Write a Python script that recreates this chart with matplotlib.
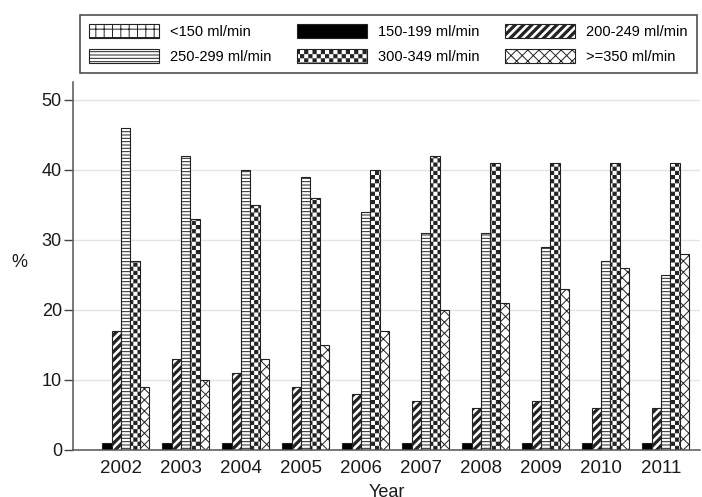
import matplotlib as mpl

mpl.use("Agg")

import matplotlib.hatch as mhatch
import matplotlib.pyplot as plt
import numpy as np
from matplotlib.path import Path

years = ["2002", "2003", "2004", "2005", "2006", "2007", "2008", "2009", "2010", "2011"]
labels = ["<150 ml/min", "150-199 ml/min", "200-249 ml/min",
          "250-299 ml/min", "300-349 ml/min", ">=350 ml/min"]

under_150 = [0, 0, 0, 0, 0, 0, 0, 0, 0, 0]
r150_199 = [1, 1, 1, 1, 1, 1, 1, 1, 1, 1]
r200_249 = [17, 13, 11, 9, 8, 7, 6, 7, 6, 6]
r250_299 = [46, 42, 40, 39, 34, 31, 31, 29, 27, 25]
r300_349 = [27, 33, 35, 36, 40, 42, 41, 41, 41, 41]
over_350 = [9, 10, 13, 15, 17, 20, 21, 23, 26, 28]

HATCH_LW = 0.7          # pt, used for all hatch strokes
SHRINK = HATCH_LW / 72  # stroke width as a fraction of the 1-inch hatch tile

SQ = [Path.MOVETO, Path.LINETO, Path.LINETO, Path.LINETO, Path.CLOSEPOLY]


# matplotlib has no checkerboard and no bold-stripe hatch, so two unused
# hatch characters ('o' and '*') are redefined as filled patterns
class CheckerHatch(mhatch.HatchPatternBase):
    def __init__(self, hatch, density):
        self.n = hatch.count("o") * 6
        self.num_vertices = (self.n * self.n // 2) * 5

    def set_vertices_and_codes(self, vertices, codes):
        n = self.n
        s = 1.0 / n
        d = s - SHRINK
        k = 0
        for i in range(n):
            for j in range(n):
                if (i + j) % 2 == 0:
                    x0, y0 = i * s + SHRINK / 2, j * s + SHRINK / 2
                    vertices[k:k + 5] = [(x0, y0), (x0 + d, y0), (x0 + d, y0 + d),
                                         (x0, y0 + d), (x0, y0)]
                    codes[k:k + 5] = SQ
                    k += 5


class BoldDiagonalHatch(mhatch.HatchPatternBase):
    def __init__(self, hatch, density):
        self.n = hatch.count("*") * 6
        self.num_vertices = (2 * self.n + 1) * 5 if self.n else 0

    def set_vertices_and_codes(self, vertices, codes):
        n = self.n
        t = 0.5 / n - SHRINK
        k = 0
        for i in range(-n, n + 1):
            c = i / n
            vertices[k:k + 5] = [(0, c), (1, 1 + c), (1, 1 + c + t), (0, c + t), (0, c)]
            codes[k:k + 5] = SQ
            k += 5


mhatch._hatch_types = [t for t in mhatch._hatch_types
                       if t not in (mhatch.SmallCircles, mhatch.Stars)]
mhatch._hatch_types += [CheckerHatch, BoldDiagonalHatch]

plt.rcParams.update({
    "font.family": ["Liberation Sans", "DejaVu Sans"],
    "hatch.linewidth": HATCH_LW,
    "hatch.color": "black",
})

series = [under_150, r150_199, r200_249, r250_299, r300_349, over_350]
faces = ["white", "black", "white", "white", "white", "white"]
hatches = ["++", None, "**", "-----", "oooo", "xxx"]

fig = plt.figure(figsize=(7.02, 4.97), dpi=100)
ax = fig.add_axes([73 / 702, 1 - 450 / 497, 627 / 702, 368 / 497])

x = np.arange(len(years))
w = 0.155
containers = []
for k, vals in enumerate(series):
    bc = ax.bar(x + (k - 2.5) * w, vals, w, facecolor=faces[k],
                edgecolor="#222222", linewidth=0.8, hatch=hatches[k],
                label=labels[k], zorder=2)
    containers.append(bc)

ax.set_xlim(-0.8, 9.65)
ax.set_ylim(0, 52.57)
ax.set_yticks([0, 10, 20, 30, 40, 50])
ax.set_xticks(x, years)
ax.yaxis.grid(True, color="#e4e4e4", linewidth=1.0, zorder=0)
ax.set_axisbelow(True)
for side in ("top", "right"):
    ax.spines[side].set_visible(False)
for side in ("left", "bottom"):
    ax.spines[side].set_color("#555555")
    ax.spines[side].set_linewidth(1.1)
ax.tick_params(axis="x", length=0, pad=7.5, labelsize=13.5, labelcolor="#1a1a1a")
ax.tick_params(axis="y", length=6.5, width=1.0, color="#444444", pad=1.5,
               labelsize=13, labelcolor="#1a1a1a")

ax.set_ylabel("%", rotation=0, fontsize=13, color="#1a1a1a", ha="center", va="center")
ax.yaxis.set_label_coords(-0.085, 0.51)
ax.set_xlabel("Year", fontsize=13, color="#1a1a1a", va="center")
ax.xaxis.set_label_coords(0.5, -0.115)

order = [0, 3, 1, 4, 2, 5]
leg = fig.legend([containers[i] for i in order], [labels[i] for i in order],
                 ncol=3, loc="center", mode="expand", borderaxespad=0,
                 bbox_to_anchor=(80 / 702, 1 - 75 / 497, 617 / 702, 62 / 497),
                 fontsize=10.5, handlelength=4.8, handleheight=1.13,
                 handletextpad=0.75, labelspacing=0.65, borderpad=0.65,
                 fancybox=False, frameon=True, edgecolor="#222222")
leg.get_frame().set_linewidth(1.2)

fig.savefig("out.png", dpi=100)
